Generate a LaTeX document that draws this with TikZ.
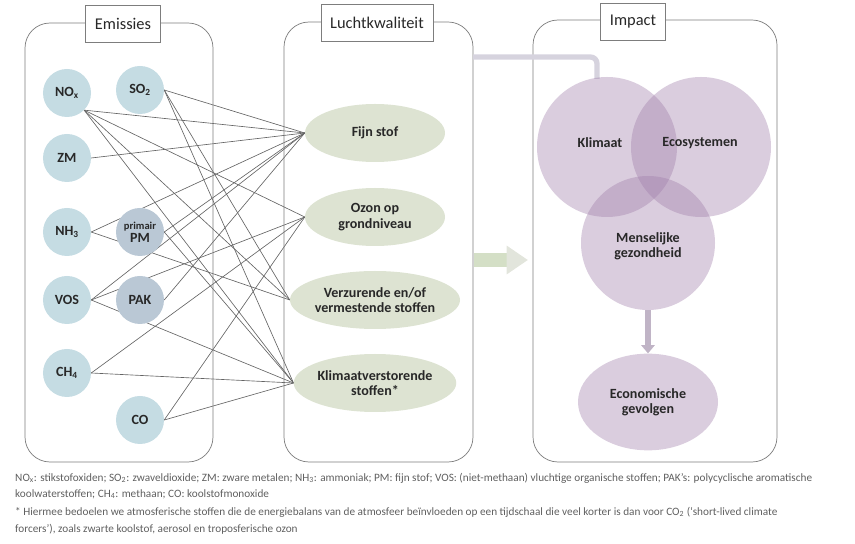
\documentclass[tikz,border=0pt]{standalone}
\usepackage{fontspec}
\setmainfont{Carlito}
\usepackage{xcolor}
\usetikzlibrary{shapes.geometric, arrows.meta}

\definecolor{emisblauw}{RGB}{197,220,227}
\definecolor{emisgrijs}{RGB}{186,200,213}
\definecolor{luchtgroen}{RGB}{221,227,210}
\definecolor{impactpaars}{RGB}{158,123,168}
\definecolor{lijngrijs}{RGB}{100,100,100}
\definecolor{kadergrijs}{RGB}{125,125,125}
\definecolor{balkgrijs}{RGB}{214,211,222}
\definecolor{pijlgroen}{RGB}{212,223,198}
\definecolor{pijlkop}{RGB}{226,229,220}
\definecolor{pijlpaars}{RGB}{192,180,198}
\definecolor{tekst}{RGB}{40,40,40}
\definecolor{voettekst}{RGB}{95,95,95}

\pgfdeclarelayer{background}
\pgfsetlayers{background,main}

\begin{document}
\begin{tikzpicture}[x=0.03cm, y=-0.03cm,
		kader/.style={draw=kadergrijs, line width=0.6pt, rounded corners=0.75cm},
		titel/.style={draw=kadergrijs, fill=white, line width=0.6pt, minimum height=1.1cm, inner xsep=0.28cm, font=\fontsize{14}{16}\selectfont, text=tekst},
		emis/.style={circle, fill=emisblauw, minimum size=1.44cm, inner sep=0pt, font=\fontsize{12}{12}\selectfont\bfseries, text=tekst},
		lucht/.style={ellipse, fill=luchtgroen, minimum width=4.2cm, minimum height=1.74cm, inner sep=0pt, align=center, font=\fontsize{12}{13}\selectfont\bfseries, text=tekst},
		impact/.style={fill=impactpaars, fill opacity=0.38, text opacity=1, inner sep=0pt, align=center, font=\fontsize{12}{13}\selectfont\bfseries, text=tekst},
		lijn/.style={draw=lijngrijs, line width=0.55pt},
		voet/.style={anchor=west, inner sep=0pt, font=\fontsize{9.6}{10}\selectfont, text=voettekst}]
	\def\R{0.75cm};

	\useasboundingbox (0,0) rectangle (855,544);

	\draw[kader] (25,23) rectangle (213,462);
	\draw[kader] (284,22) rectangle (473,462);
	\draw[kader] (533,20) rectangle (777,462);

	\node[titel] (emistitel) at (123,24) {Emissies};
	\node[titel] (luchttitel) at (377,23) {Luchtkwaliteit};
	\node[titel] (impacttitel) at (633,22) {Impact};

	\node[emis] (nox) at (67,93) {NO\textsubscript{x}};
	\node[emis] (so2) at (140,90) {SO\textsubscript{2}};
	\node[emis] (zm) at (67,158) {ZM};
	\node[emis] (nh3) at (67,232) {NH\textsubscript{3}};
	\node[emis, fill=emisgrijs, align=center] (pm) at (140,232) {{\fontsize{9}{9}\selectfont primair}\\[-1pt]PM};
	\node[emis] (vos) at (67,300) {VOS};
	\node[emis, fill=emisgrijs] (pak) at (140,300) {PAK};
	\node[emis] (ch4) at (67,373) {CH\textsubscript{4}};
	\node[emis] (co) at (140,420) {CO};

	\node[lucht] (fijn) at (375,133) {Fijn stof};
	\node[lucht] (ozon) at (375,217) {Ozon op\\grondniveau};
	\node[lucht] (verz) at (375,300) {Verzurende en/of\\vermestende stoffen};
	\node[lucht] (klim) at (375,383) {Klimaatverstorende\\stoffen*};

	\begin{pgfonlayer}{background}
		\foreach \van/\naar in {nox.south east/fijn, nox.south east/ozon, nox.south east/verz, nox.south east/klim,
				so2.east/fijn, so2.east/verz, so2.east/klim, zm.east/fijn, nh3.east/fijn, nh3.east/verz,
				pm.east/fijn, pm.east/klim, vos.east/fijn, vos.east/ozon, vos.east/klim, pak.east/fijn,
				ch4.east/ozon, ch4.east/klim, co.east/ozon, co.east/klim}
			\draw[lijn] (\van) -- (\naar.west);
	\end{pgfonlayer}

	\coordinate (balkstart) at (473,57);
	\coordinate (balkeind) at (597,79);
	\draw[balkgrijs, line width=4.5pt, rounded corners=0.2cm] (balkstart) -| (balkeind);

	\coordinate (pijlstart) at (474,260);
	\coordinate (pijleind) at (528,260);
	\draw[pijlgroen, line width=0.44cm, -{Triangle[length=0.64cm, width=0.82cm, fill=pijlkop, color=pijlkop]}] (pijlstart) -- (pijleind);

	\node[impact, circle, minimum size=4.2cm] (klimaat) at (607,147) {};
	\node[impact, circle, minimum size=4.2cm] (eco) at (701,147) {};
	\node[impact, circle, minimum size=4.02cm] (mens) at (648,243) {};
	\node[impact, ellipse, minimum width=4.2cm, minimum height=2.9cm] (econ) at (648,402) {Economische\\gevolgen};

	\node[font=\fontsize{12}{13}\selectfont\bfseries, text=tekst] at (600,143) {Klimaat};
	\node[font=\fontsize{12}{13}\selectfont\bfseries, text=tekst] at (700,143) {Ecosystemen};
	\node[font=\fontsize{12}{13}\selectfont\bfseries, text=tekst, align=center] at (648,246) {Menselijke\\gezondheid};

	\draw[pijlpaars, line width=5pt, -{Triangle[length=0.25cm, width=0.4cm]}] (mens.south) -- (econ.north);

	\node[voet] (voet1) at (15,478) {NO\textsubscript{x}: stikstofoxiden; SO\textsubscript{2}: zwaveldioxide; ZM: zware metalen; NH\textsubscript{3}: ammoniak; PM: fijn stof; VOS: (niet-methaan) vluchtige organische stoffen; PAK’s: polycyclische aromatische};
	\node[voet] (voet2) at (15,494) {koolwaterstoffen; CH\textsubscript{4}: methaan; CO: koolstofmonoxide};
	\node[voet] (voet3) at (15,512) {* Hiermee bedoelen we atmosferische stoffen die de energiebalans van de atmosfeer beïnvloeden op een tijdschaal die veel korter is dan voor CO\textsubscript{2} (‘short-lived climate};
	\node[voet] (voet4) at (15,529) {forcers’), zoals zwarte koolstof, aerosol en troposferische ozon};
\end{tikzpicture}
\end{document}
